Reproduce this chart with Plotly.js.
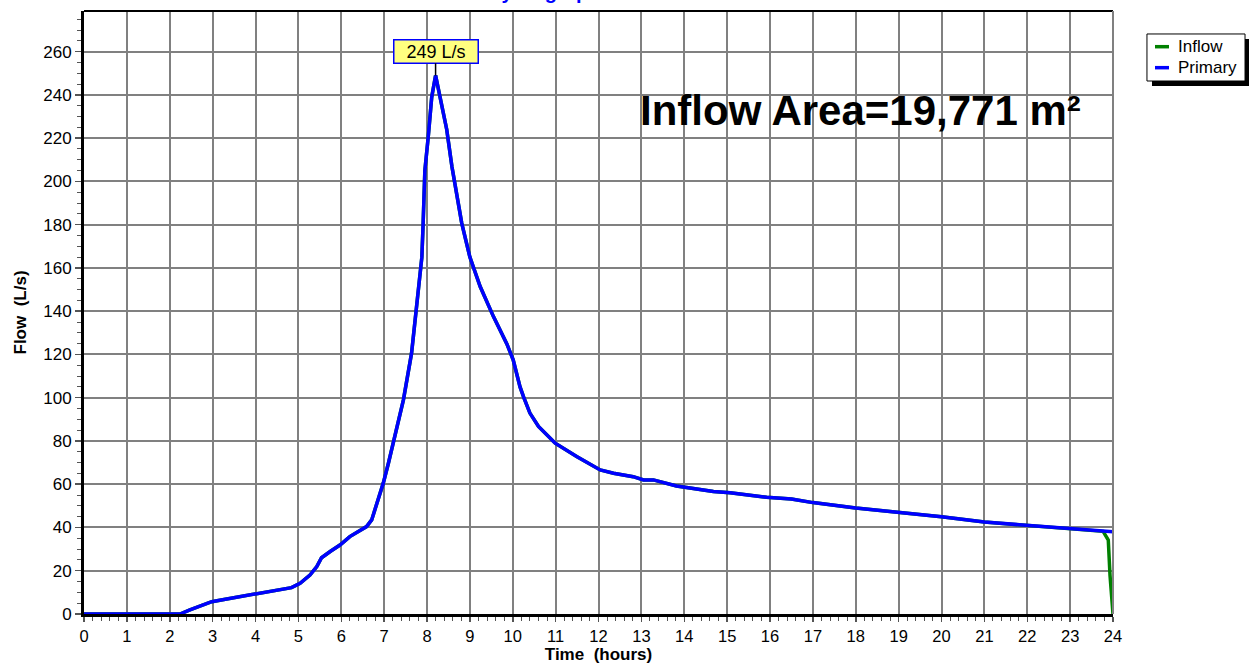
<!DOCTYPE html>
<html>
<head>
<meta charset="utf-8">
<script src="https://cdn.plot.ly/plotly-3.0.1.min.js"></script>
<style>html,body{margin:0;padding:0;background:#fff;}#chart{width:1249px;height:664px;}</style>
</head>
<body>
<div id="chart"></div>
<script>
// Time (hours)
const hours = [0, 1, 2, 2.24, 2.47, 2.98, 3.2, 3.95, 4.34, 4.84, 5.04, 5.27, 5.43, 5.54, 5.75, 5.97, 6.2, 6.59, 6.71, 6.98, 7.1, 7.29, 7.45, 7.64, 7.76, 7.88, 7.91, 7.95, 8.03, 8.11, 8.2, 8.34, 8.46, 8.58, 8.69, 8.81, 9.0, 9.24, 9.55, 9.86, 10.01, 10.17, 10.25, 10.4, 10.6, 10.99, 11.49, 12.04, 12.35, 12.81, 13.05, 13.28, 13.82, 14.68, 15.07, 15.92, 16.5, 17.0, 18.0, 19.0, 20.0, 21.0, 22.0, 23.0, 23.77, 23.89, 23.93, 24.0];
// Primary flow (L/s)
const primaryFlow = [0, 0, 0, 0, 1.9, 5.7, 6.5, 9.1, 10.6, 12.2, 14.2, 18, 21.9, 26, 29, 31.9, 35.8, 40.4, 43.5, 60.5, 69.7, 85, 99, 120.6, 142, 165, 180.7, 205, 220.8, 239, 249, 236, 224, 207, 194.6, 180.7, 165, 151.4, 137.5, 125, 117.5, 105, 100.5, 92.9, 86.7, 79, 72.8, 66.6, 65.1, 63.5, 62, 62, 59.2, 56.6, 56.1, 54, 53.2, 51.5, 49, 47, 45, 42.5, 41, 39.5, 38.6, 38.4, 38.2, 38];
// Inflow (L/s)
const inflowFlow = [0, 0, 0, 0, 1.9, 5.7, 6.5, 9.1, 10.6, 12.2, 14.2, 18, 21.9, 26, 29, 31.9, 35.8, 40.4, 43.5, 60.5, 69.7, 85, 99, 120.6, 142, 165, 180.7, 205, 220.8, 239, 249, 236, 224, 207, 194.6, 180.7, 165, 151.4, 137.5, 125, 117.5, 105, 100.5, 92.9, 86.7, 79, 72.8, 66.6, 65.1, 63.5, 62, 62, 59.2, 56.6, 56.1, 54, 53.2, 51.5, 49, 47, 45, 42.5, 41, 39.5, 38.2, 34.2, 18, 0];
const seriesNames = ["Inflow", "Primary"];
const seriesColors = ["#008000", "#0000FF"];
const peakLabel = "249 L/s";
const peakTime = 8.2;
const peakFlow = 249;
const areaLabel = "Inflow Area=19,771 m²";
const chartTitle = "Hydrograph";
const xTickVals = [0,1,2,3,4,5,6,7,8,9,10,11,12,13,14,15,16,17,18,19,20,21,22,23,24];
const yTickVals = [0,20,40,60,80,100,120,140,160,180,200,220,240,260];

const FONT = "Liberation Sans, Arial, sans-serif";

const traces = seriesNames.map((name, i) => ({
  x: hours, y: i === 0 ? inflowFlow : primaryFlow, name: name, mode: "lines", type: "scatter",
  line: {color: seriesColors[i], width: 3.5}, showlegend: false
}));

// legend drawn in paper coordinates (box, shadow, samples, labels)
const legendShapes = [
  {type: "rect", xref: "paper", yref: "paper", x0: 1.0379, x1: 1.1331, y0: 0.8756, y1: 0.9536, fillcolor: "#000", line: {width: 0}, layer: "above"},
  {type: "rect", xref: "paper", yref: "paper", x0: 1.0330, x1: 1.1283, y0: 0.8839, y1: 0.9619, fillcolor: "#fff", line: {color: "#000", width: 1}, layer: "above"}
];
const legendRowY = [0.9408, 0.9060];
const legendAnn = [];
seriesNames.forEach((name, i) => {
  legendShapes.push({type: "line", xref: "paper", yref: "paper", x0: 1.0408, x1: 1.0544, y0: legendRowY[i], y1: legendRowY[i],
    line: {color: seriesColors[i], width: 3.5}, layer: "above"});
  legendAnn.push({text: name, xref: "paper", yref: "paper", x: 1.0612, y: legendRowY[i], xanchor: "left", yanchor: "middle",
    showarrow: false, font: {family: FONT, size: 17, color: "#000"}});
});

const layout = {
  width: 1249, height: 664,
  margin: {l: 84, r: 136, t: 11, b: 50, pad: 0, autoexpand: false},
  paper_bgcolor: "#fff", plot_bgcolor: "#fff",
  font: {family: FONT, color: "#000"},
  showlegend: false,
  xaxis: {
    range: [0, 24], tickmode: "array", tickvals: xTickVals, ticktext: xTickVals.map(String),
    showgrid: true, gridcolor: "#808080", gridwidth: 2,
    showline: true, linecolor: "#000", linewidth: 3, zeroline: false,
    ticks: "outside", ticklen: 5, tickwidth: 1.5, tickcolor: "#555",
    minor: {dtick: 0.2, tick0: 0, ticks: "outside", ticklen: 4, tickwidth: 1, tickcolor: "#555", showgrid: false},
    tickfont: {family: FONT, size: 16.5, color: "#000"},
    title: {text: "Time\u00a0\u00a0(hours)", font: {family: FONT, size: 17, weight: "bold", color: "#000"}, standoff: 6},
    layer: "below traces", fixedrange: true
  },
  yaxis: {
    range: [0, 278.8], tickmode: "array", tickvals: yTickVals, ticktext: yTickVals.map(String),
    showgrid: true, gridcolor: "#808080", gridwidth: 2,
    showline: true, linecolor: "#000", linewidth: 3, zeroline: false,
    ticks: "outside", ticklen: 6, tickwidth: 1.5, tickcolor: "#555",
    minor: {dtick: 5, tick0: 0, ticks: "outside", ticklen: 4, tickwidth: 1, tickcolor: "#555", showgrid: false},
    tickfont: {family: FONT, size: 17, color: "#000"},
    title: {text: "Flow\u00a0\u00a0(L/s)", font: {family: FONT, size: 17, weight: "bold", color: "#000"}, standoff: 13},
    layer: "below traces", fixedrange: true
  },
  shapes: [
    {type: "line", xref: "paper", yref: "paper", x0: 0, x1: 1, y0: 1, y1: 1, line: {color: "#000", width: 2}},
    {type: "line", xref: "paper", yref: "paper", x0: 1, x1: 1, y0: 0, y1: 1, line: {color: "#808080", width: 2}}
  ].concat(legendShapes),
  annotations: [
    {text: areaLabel, xref: "paper", yref: "paper", x: 0.9708, y: 0.8358, xanchor: "right", yanchor: "middle",
     showarrow: false, font: {family: FONT, size: 42, weight: "bold", color: "#000"}},
    {text: peakLabel, x: peakTime, y: peakFlow, xref: "x", yref: "y", showarrow: true, arrowhead: 0,
     arrowcolor: "#000", arrowwidth: 1.5, ax: 0, ay: -24, bgcolor: "#FFFF80", bordercolor: "#0000FF",
     borderwidth: 1.5, borderpad: 1, width: 81, font: {family: FONT, size: 18, color: "#000"}},
    {text: chartTitle, xref: "paper", yref: "paper", x: 0.447, y: 1.0315, xanchor: "center", yanchor: "middle",
     showarrow: false, font: {family: FONT, size: 20, weight: "bold", color: "#0000FF"}}
  ].concat(legendAnn)
};

Plotly.newPlot("chart", traces, layout, {displayModeBar: false, staticPlot: true});
</script>
</body>
</html>
